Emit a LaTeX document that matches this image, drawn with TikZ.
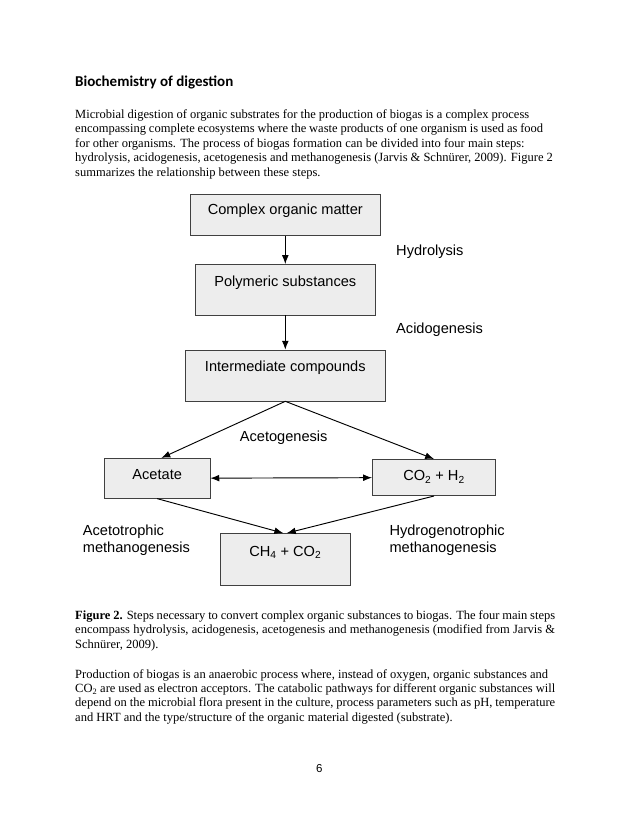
\documentclass[tikz,border=0pt]{standalone}
\usepackage{fontspec}
\usetikzlibrary{arrows.meta}
\setmainfont{Liberation Serif}
\newfontfamily\diagfont{Liberation Sans}
\newfontfamily\headfont{Carlito}
\newcommand\lineto[2]{\hbox to #1{#2}}

\begin{document}
\begin{tikzpicture}[x=0.959pt, y=-0.959pt, >={Latex[length=8.5pt,width=6.5pt]},
    box/.style={draw=black!75, fill=black!7, line width=0.6pt, inner sep=0pt,
        font=\diagfont\fontsize{14}{16}\selectfont},
    lbl/.style={inner sep=0pt, align=left, font=\diagfont\fontsize{14}{16}\selectfont},
    txt/.style={anchor=base west, inner sep=0pt, font=\fontsize{12}{14}\selectfont},
    flow/.style={->, line width=0.9pt}]
    % Page frame
    \useasboundingbox (0,0) rectangle (638,826);

    % Heading and first paragraph
    \node[txt, font=\headfont\bfseries\fontsize{14.4}{16}\selectfont] (head) at (75,86.5) {Biochemistry of digestion};
    \node[txt] (pa1) at (75,118.5) {\lineto{435.4pt}{Microbial digestion of organic substrates for the production of biogas is a complex process}};
    \node[txt] (pa2) at (75,132.9) {\lineto{448.8pt}{encompassing complete ecosystems where the waste products of one organism is used as food}};
    \node[txt] (pa3) at (75,147.3) {for other organisms. The process of biogas formation can be divided into four main steps:};
    \node[txt] (pa4) at (75,161.7) {\lineto{458.1pt}{hydrolysis, acidogenesis, acetogenesis and methanogenesis (Jarvis \& Schnürer, 2009). Figure 2}};
    \node[txt] (pa5) at (75,176.1) {summarizes the relationship between these steps.};

    % Boxes of the scheme
    \node[box, minimum width=182.9pt, text height=19.9pt, text depth=19.9pt] (com) at (285.3,215) {Complex organic matter};
    \node[box, minimum width=173.3pt, text height=20.8pt, text depth=27.8pt] (pol) at (285.3,289.7) {Polymeric substances};
    \node[box, minimum width=192.5pt, text height=20.8pt, text depth=28.1pt] (int) at (285.3,375.5) {Intermediate compounds};
    \node[box, minimum width=101.4pt, text height=19.9pt, text depth=18.5pt] (ace) at (157.2,478.3) {Acetate};
    \node[box, minimum width=118.3pt, text height=20.8pt, text depth=14.1pt] (co) at (434,477.5) {CO\textsubscript{2} + H\textsubscript{2}};
    \node[box, minimum width=124pt, text height=22.2pt, text depth=27.3pt] (ch) at (285.3,559.2) {CH\textsubscript{4} + CO\textsubscript{2}};

    % Step labels
    \node[lbl, anchor=west] (hyd) at (396,251.7) {Hydrolysis};
    \node[lbl, anchor=west] (aci) at (396,330) {Acidogenesis};
    \node[lbl] (acg) at (283.7,437.3) {Acetogenesis};
    \node[lbl, anchor=west] (acm) at (82.7,540) {Acetotrophic\\methanogenesis};
    \node[lbl, anchor=west] (hym) at (389.3,540) {Hydrogenotrophic\\methanogenesis};

    % Arrows
    \draw[flow] (com) -- (pol);
    \draw[flow] (pol) -- (int);
    \draw[flow] (int.south) -- ([xshift=4pt]ace.north);
    \draw[flow] (int.south) -- (co.north);
    \draw[<->, line width=0.9pt] (ace) -- (co);
    \draw[flow] (ace.south) -- ([xshift=-2pt]ch.north);
    \draw[flow] (co.south) -- ([xshift=1.5pt]ch.north);

    % Caption
    \node[txt] (ca1) at (75,619.5) {\lineto{460.3pt}{\textbf{Figure 2.} Steps necessary to convert complex organic substances to biogas. The four main steps}};
    \node[txt] (ca2) at (75,633.9) {\lineto{460.3pt}{encompass hydrolysis, acidogenesis, acetogenesis and methanogenesis (modified from Jarvis \&}};
    \node[txt] (ca3) at (75,648.3) {Schnürer, 2009).};

    % Second paragraph
    \node[txt] (pb1) at (75,678) {\lineto{453.6pt}{Production of biogas is an anaerobic process where, instead of oxygen, organic substances and}};
    \node[txt] (pb2) at (75,692.4) {\lineto{460.3pt}{CO\textsubscript{2} are used as electron acceptors. The catabolic pathways for different organic substances will}};
    \node[txt] (pb3) at (75,706.8) {\lineto{460.3pt}{depend on the microbial flora present in the culture, process parameters such as pH, temperature}};
    \node[txt] (pb4) at (75,721.2) {and HRT and the type/structure of the organic material digested (substrate).};

    % Page number
    \node[inner sep=0pt, font=\diagfont\fontsize{11}{13}\selectfont] (num) at (319.3,768.3) {6};
\end{tikzpicture}
\end{document}
